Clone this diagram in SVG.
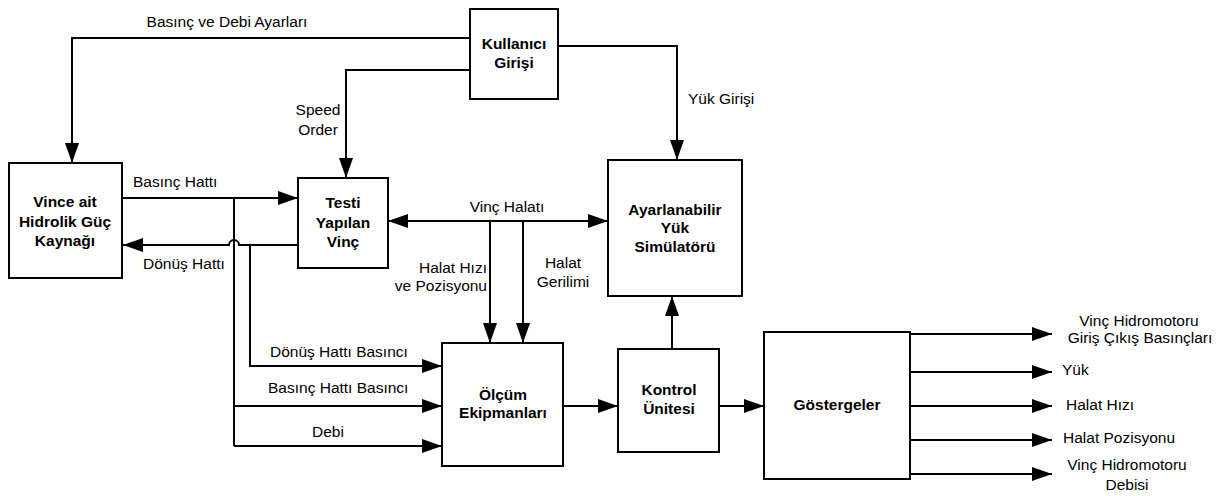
<svg xmlns="http://www.w3.org/2000/svg" width="1223" height="496" viewBox="0 0 1223 496">
<defs>
<marker id="ah" markerWidth="20" markerHeight="14" refX="20" refY="7" orient="auto" markerUnits="userSpaceOnUse">
<path d="M0,0 L20,7 L0,14 Z" fill="#000"/>
</marker>
<marker id="ahs" markerWidth="20" markerHeight="14" refX="20" refY="7" orient="auto-start-reverse" markerUnits="userSpaceOnUse">
<path d="M0,0 L20,7 L0,14 Z" fill="#000"/>
</marker>
</defs>
<style>
.box{fill:#fff;stroke:#000;stroke-width:2}
.ln{fill:none;stroke:#000;stroke-width:2}
.t{font-family:"Liberation Sans",Arial,sans-serif;font-size:15.5px;fill:#000}
.b{font-family:"Liberation Sans",Arial,sans-serif;font-size:15.5px;font-weight:bold;fill:#000;text-anchor:middle}
.m{text-anchor:middle}
.e{text-anchor:end}
</style>
<rect width="1223" height="496" fill="#fff"/>
<g id="connectors">
<path class="ln" d="M470,38 H72 V163" marker-end="url(#ah)"/>
<path class="ln" d="M470,70 H346 V178" marker-end="url(#ah)"/>
<path class="ln" d="M558,46 H677 V160" marker-end="url(#ah)"/>
<path class="ln" d="M122,198 H298" marker-end="url(#ah)"/>
<path class="ln" d="M298,245 H250 M250,245 H239 A5,5 0 0 0 229,245 H123" marker-end="url(#ah)"/>
<path class="ln" d="M234,198 V446"/>
<path class="ln" d="M250,245 V366 H442" marker-end="url(#ah)"/>
<path class="ln" d="M234,406 H442" marker-end="url(#ah)"/>
<path class="ln" d="M234,446 H442" marker-end="url(#ah)"/>
<path class="ln" d="M388,221 H608" marker-start="url(#ahs)" marker-end="url(#ah)"/>
<path class="ln" d="M490,221 V343" marker-end="url(#ah)"/>
<path class="ln" d="M523,221 V343" marker-end="url(#ah)"/>
<path class="ln" d="M563,406 H618" marker-end="url(#ah)"/>
<path class="ln" d="M672,349 V296" marker-end="url(#ah)"/>
<path class="ln" d="M719,406 H764" marker-end="url(#ah)"/>
<path class="ln" d="M910,334 H1052" marker-end="url(#ah)"/>
<path class="ln" d="M910,372 H1052" marker-end="url(#ah)"/>
<path class="ln" d="M910,406 H1052" marker-end="url(#ah)"/>
<path class="ln" d="M910,440 H1052" marker-end="url(#ah)"/>
<path class="ln" d="M910,474 H1052" marker-end="url(#ah)"/>
</g>
<g id="labels">
<text class="t m" x="227" y="27">Basınç ve Debi Ayarları</text>
<text class="t m" x="318" y="115">Speed</text>
<text class="t m" x="318" y="135">Order</text>
<text class="t" x="688" y="104">Yük Girişi</text>
<text class="t" x="133" y="187">Basınç Hattı</text>
<text class="t" x="143" y="269">Dönüş Hattı</text>
<text class="t m" x="507" y="212">Vinç Halatı</text>
<text class="t e" x="487" y="273">Halat Hızı</text>
<text class="t e" x="487" y="291">ve Pozisyonu</text>
<text class="t m" x="563" y="268">Halat</text>
<text class="t m" x="563" y="287">Gerilimi</text>
<text class="t" x="270" y="357">Dönüş Hattı Basıncı</text>
<text class="t" x="268" y="393">Basınç Hattı Basıncı</text>
<text class="t m" x="328" y="437">Debi</text>
<text class="t m" x="1139" y="326">Vinç Hidromotoru</text>
<text class="t m" x="1140" y="343">Giriş Çıkış Basınçları</text>
<text class="t" x="1062" y="375">Yük</text>
<text class="t" x="1066" y="410">Halat Hızı</text>
<text class="t" x="1063" y="443">Halat Pozisyonu</text>
<text class="t m" x="1127" y="470">Vinç Hidromotoru</text>
<text class="t m" x="1127" y="490">Debisi</text>
</g>
<g id="kullanici">
<rect class="box" x="470" y="9" width="88" height="90"/>
<text class="b" x="514" y="49">Kullanıcı</text>
<text class="b" x="514" y="68">Girişi</text>
</g>
<g id="vince">
<rect class="box" x="9" y="163" width="113" height="115"/>
<text class="b" x="65" y="207">Vince ait</text>
<text class="b" x="65" y="227">Hidrolik Güç</text>
<text class="b" x="65" y="246">Kaynağı</text>
</g>
<g id="testi">
<rect class="box" x="298" y="178" width="90" height="90"/>
<text class="b" x="343" y="208">Testi</text>
<text class="b" x="343" y="228">Yapılan</text>
<text class="b" x="343" y="247">Vinç</text>
</g>
<g id="ayarlanabilir">
<rect class="box" x="608" y="160" width="134" height="136"/>
<text class="b" x="675" y="215">Ayarlanabilir</text>
<text class="b" x="675" y="233">Yük</text>
<text class="b" x="675" y="252">Simülatörü</text>
</g>
<g id="olcum">
<rect class="box" x="442" y="343" width="121" height="123"/>
<text class="b" x="503" y="400">Ölçüm</text>
<text class="b" x="503" y="418">Ekipmanları</text>
</g>
<g id="kontrol">
<rect class="box" x="618" y="349" width="101" height="103"/>
<text class="b" x="669" y="395">Kontrol</text>
<text class="b" x="669" y="414">Ünitesi</text>
</g>
<g id="gostergeler">
<rect class="box" x="764" y="332" width="146" height="147"/>
<text class="b" x="837" y="410">Göstergeler</text>
</g>
</svg>
